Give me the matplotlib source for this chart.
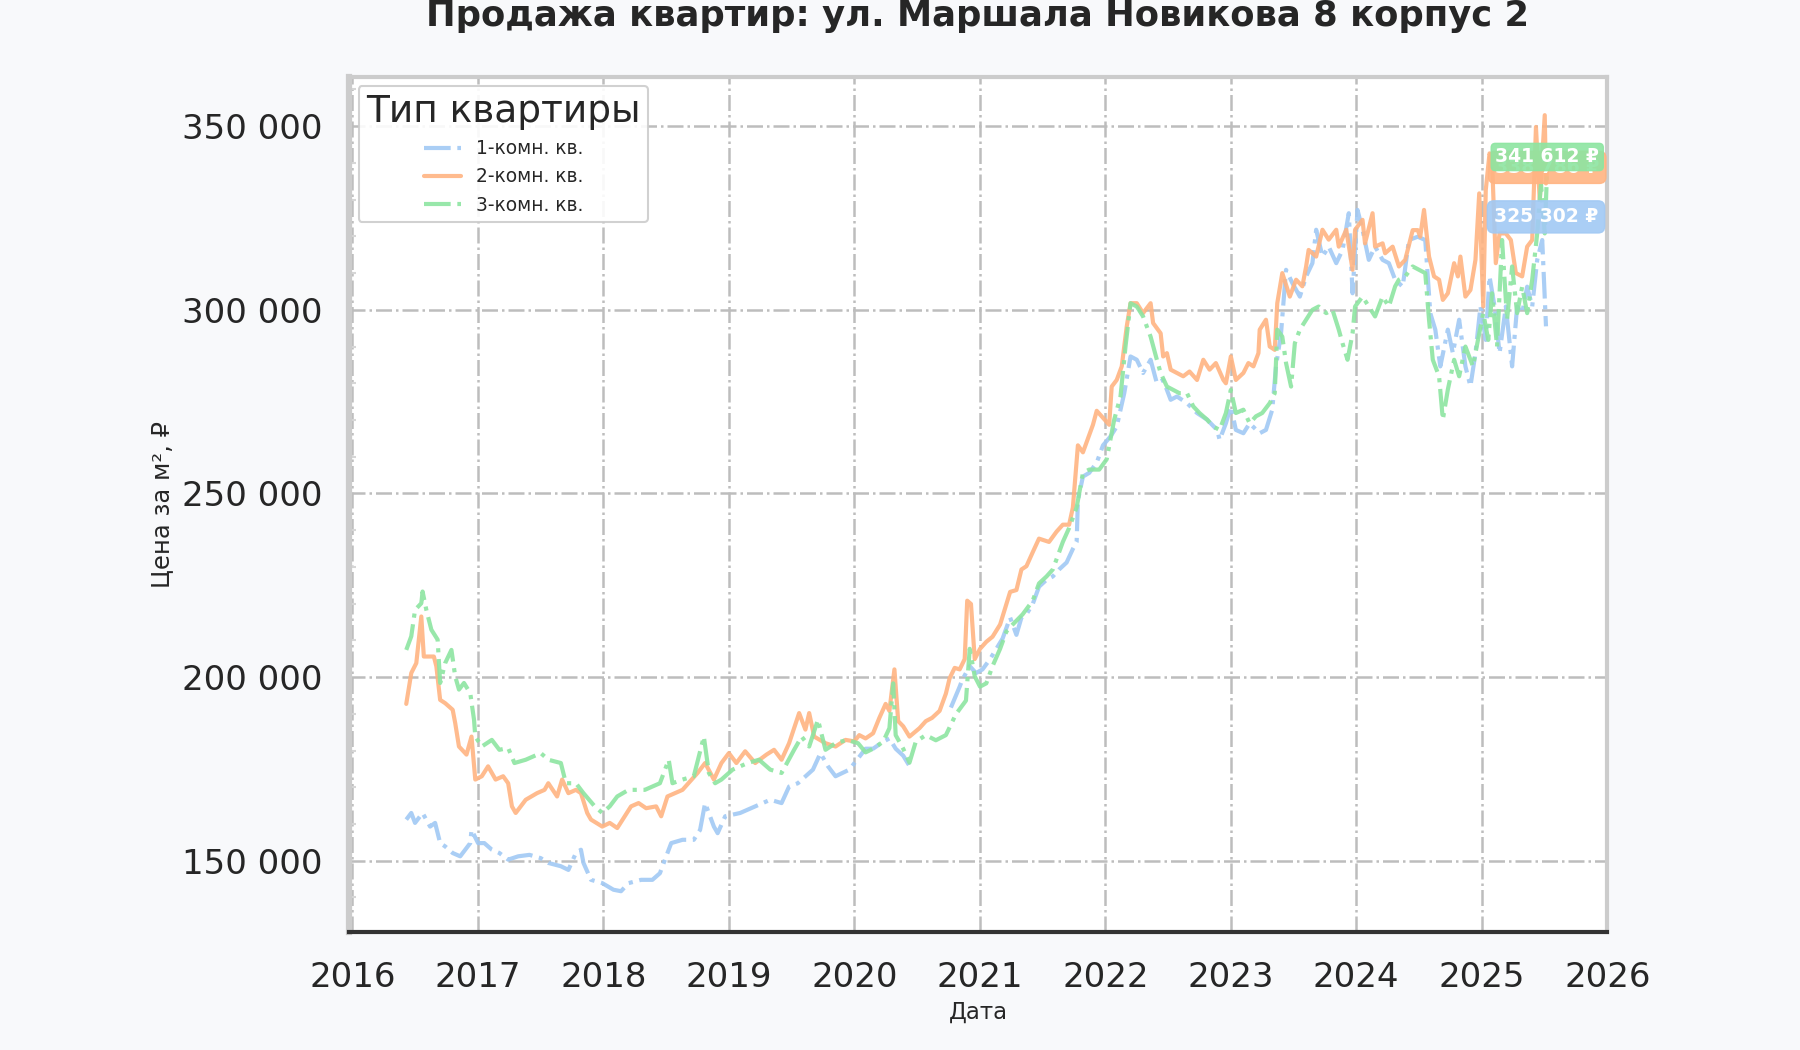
import numpy as np
import pandas as pd
import matplotlib
matplotlib.use("Agg")
import matplotlib.pyplot as plt
import matplotlib.dates as mdates
from matplotlib.ticker import FuncFormatter, AutoMinorLocator

# ---------------- data (decimal years, price per m2 in thousand RUB) ----------------
series_names = ["1-комн. кв.", "2-комн. кв.", "3-комн. кв."]

t1 = [2016.43, 2016.47, 2016.50, 2016.56, 2016.62, 2016.66, 2016.70, 2016.74, 2016.80, 2016.86,
      2016.94, 2016.95, 2017.00, 2017.05, 2017.11, 2017.17, 2017.24, 2017.32, 2017.41, 2017.50,
      2017.56, 2017.66, 2017.72, 2017.78, 2017.82, 2017.84, 2017.90, 2017.99, 2018.08, 2018.14,
      2018.20, 2018.30, 2018.39, 2018.45, 2018.49, 2018.54, 2018.63, 2018.72, 2018.77, 2018.81,
      2018.88, 2018.91, 2018.97, 2019.09, 2019.21, 2019.33, 2019.42, 2019.48, 2019.55, 2019.67,
      2019.73, 2019.79, 2019.85, 2019.96, 2020.09, 2020.15, 2020.23, 2020.28, 2020.33, 2020.39,
      2020.44, 2020.46, 2020.60, 2020.77, 2020.84, 2020.86, 2020.92, 2020.97, 2021.02, 2021.08,
      2021.13, 2021.18, 2021.24, 2021.29, 2021.33, 2021.37, 2021.42, 2021.47, 2021.53, 2021.58,
      2021.63, 2021.69, 2021.74, 2021.77, 2021.78, 2021.82, 2021.87, 2021.93, 2021.98, 2022.04,
      2022.09, 2022.15, 2022.20, 2022.25, 2022.30, 2022.36, 2022.41, 2022.46, 2022.52, 2022.57,
      2022.65, 2022.73, 2022.81, 2022.89, 2022.91, 2022.96, 2023.00, 2023.04, 2023.10, 2023.15,
      2023.23, 2023.28, 2023.33, 2023.36, 2023.40, 2023.44, 2023.49, 2023.55, 2023.60, 2023.65,
      2023.68, 2023.73, 2023.78, 2023.84, 2023.89, 2023.94, 2023.97, 2024.01, 2024.05, 2024.10,
      2024.15, 2024.21, 2024.26, 2024.31, 2024.37, 2024.42, 2024.49, 2024.55, 2024.59, 2024.63,
      2024.67, 2024.73, 2024.77, 2024.82, 2024.87, 2024.91, 2024.95, 2024.99, 2025.03, 2025.06,
      2025.10, 2025.14, 2025.19, 2025.24, 2025.28, 2025.32, 2025.36, 2025.40, 2025.44, 2025.48,
      2025.51]
v1 = [161.2, 163.0, 160.3, 163.0, 159.3, 160.3, 154.8, 153.9, 152.1, 151.2,
      154.8, 158.4, 154.8, 154.8, 153.0, 152.1, 150.3, 151.2, 151.6, 150.7,
      149.4, 148.5, 147.5, 152.1, 153.0, 149.4, 144.8, 143.9, 142.1, 141.7,
      143.9, 144.8, 144.8, 146.6, 150.3, 154.8, 155.7, 155.7, 158.4, 165.7,
      159.3, 157.5, 162.1, 163.0, 164.8, 166.6, 165.7, 170.2, 171.1, 174.8,
      179.3, 175.7, 173.0, 174.8, 180.5, 180.5, 182.4, 183.3, 180.5, 178.6,
      175.8, 174.8, np.nan, 191.7, 197.4, 199.2, 203.0, 201.1, 202.1, 204.9,
      207.7, 210.5, 216.2, 211.5, 216.2, 217.1, 219.9, 224.6, 226.5, 227.4,
      229.3, 231.2, 234.9, 236.8, 248.1, 254.6, 255.6, 258.4, 263.1, 265.5,
      268.2, 277.3, 287.3, 286.4, 282.8, 286.4, 280.0, 280.9, 275.5, 276.4,
      274.6, 271.9, 270.1, 267.3, 264.6, 269.1, 273.7, 267.3, 266.4, 269.1,
      266.4, 267.3, 272.8, 284.6, 293.6, 310.9, 307.3, 303.6, 309.1, 312.7,
      321.8, 314.5, 317.2, 312.7, 316.3, 326.3, 304.5, 327.2, 321.8, 313.6,
      317.2, 313.6, 312.7, 308.2, 306.3, 319.0, 319.9, 319.0, 299.1, 294.6,
      284.6, 294.6, 288.2, 297.3, 284.6, 279.2, 288.2, 300.9, 291.8, 309.1,
      300.9, 288.2, 300.9, 284.6, 300.9, 299.1, 306.3, 300.9, 313.6, 319.0,
      295.5]

t2 = [2016.43, 2016.47, 2016.51, 2016.55, 2016.57, 2016.65, 2016.67, 2016.70, 2016.74, 2016.80,
      2016.82, 2016.85, 2016.91, 2016.95, 2016.98, 2017.03, 2017.08, 2017.14, 2017.20, 2017.24,
      2017.27, 2017.30, 2017.38, 2017.47, 2017.53, 2017.56, 2017.63, 2017.67, 2017.72, 2017.78,
      2017.82, 2017.87, 2017.90, 2017.99, 2018.05, 2018.11, 2018.17, 2018.22, 2018.28, 2018.34,
      2018.42, 2018.46, 2018.51, 2018.63, 2018.75, 2018.81, 2018.88, 2018.94, 2019.00, 2019.06,
      2019.13, 2019.21, 2019.30, 2019.36, 2019.42, 2019.48, 2019.56, 2019.61, 2019.64, 2019.68,
      2019.77, 2019.85, 2019.93, 2020.00, 2020.04, 2020.09, 2020.15, 2020.20, 2020.25, 2020.28,
      2020.32, 2020.35, 2020.39, 2020.44, 2020.52, 2020.57, 2020.62, 2020.68, 2020.73, 2020.76,
      2020.80, 2020.84, 2020.88, 2020.90, 2020.93, 2020.96, 2021.00, 2021.05, 2021.10, 2021.16,
      2021.21, 2021.24, 2021.29, 2021.33, 2021.37, 2021.42, 2021.47, 2021.55, 2021.61, 2021.66,
      2021.71, 2021.74, 2021.78, 2021.82, 2021.85, 2021.90, 2021.93, 2021.98, 2022.03, 2022.05,
      2022.09, 2022.13, 2022.17, 2022.20, 2022.25, 2022.30, 2022.36, 2022.38, 2022.44, 2022.46,
      2022.49, 2022.52, 2022.57, 2022.62, 2022.67, 2022.73, 2022.78, 2022.83, 2022.88, 2022.94,
      2022.96, 2023.00, 2023.04, 2023.10, 2023.14, 2023.18, 2023.22, 2023.23, 2023.28, 2023.31,
      2023.35, 2023.37, 2023.41, 2023.47, 2023.52, 2023.57, 2023.60, 2023.62, 2023.68, 2023.73,
      2023.78, 2023.84, 2023.86, 2023.92, 2023.97, 2023.99, 2024.05, 2024.07, 2024.13, 2024.15,
      2024.21, 2024.23, 2024.29, 2024.34, 2024.39, 2024.45, 2024.49, 2024.51, 2024.54, 2024.58,
      2024.62, 2024.66, 2024.69, 2024.73, 2024.78, 2024.81, 2024.83, 2024.87, 2024.91, 2024.95,
      2024.98, 2025.01, 2025.03, 2025.06, 2025.08, 2025.11, 2025.14, 2025.19, 2025.23, 2025.27,
      2025.32, 2025.36, 2025.40, 2025.43, 2025.46, 2025.50, 2025.51, 2025.52]
v2 = [192.7, 201.1, 203.8, 216.5, 205.6, 205.6, 202.9, 193.8, 192.9, 191.1,
      187.5, 181.1, 178.9, 183.8, 172.1, 173.0, 175.7, 172.1, 173.0, 171.1,
      164.8, 163.0, 166.6, 168.4, 169.3, 171.1, 167.5, 172.1, 168.4, 169.3,
      168.4, 163.0, 161.2, 159.3, 160.3, 158.9, 162.1, 164.8, 165.7, 164.3,
      164.8, 162.1, 167.5, 169.3, 173.9, 176.6, 172.1, 176.6, 179.3, 176.6,
      179.8, 176.6, 178.9, 180.2, 177.5, 182.0, 190.2, 185.7, 190.2, 183.8,
      182.0, 181.1, 182.9, 182.5, 184.2, 183.3, 184.7, 188.9, 192.7, 190.8,
      202.1, 188.0, 186.6, 183.8, 186.1, 188.0, 188.9, 190.8, 195.5, 199.7,
      202.5, 202.1, 204.9, 220.8, 219.9, 204.9, 207.7, 209.6, 211.0, 214.3,
      219.9, 223.2, 223.7, 229.3, 230.2, 234.0, 237.7, 236.8, 239.6, 241.5,
      241.5, 246.2, 263.1, 261.2, 264.0, 268.7, 272.5, 270.6, 268.7, 279.1,
      280.9, 284.6, 295.5, 301.8, 301.8, 299.1, 301.8, 296.4, 293.6, 287.3,
      288.2, 283.7, 282.8, 281.9, 283.2, 280.9, 286.4, 283.7, 285.5, 280.9,
      280.0, 287.3, 280.9, 282.8, 285.5, 284.6, 288.2, 294.6, 297.3, 290.0,
      289.1, 301.8, 310.0, 303.6, 308.2, 306.4, 311.8, 316.3, 314.5, 321.8,
      319.1, 321.8, 317.2, 321.8, 310.9, 321.8, 324.5, 318.1, 326.3, 317.2,
      318.1, 315.4, 317.2, 311.8, 313.6, 321.7, 321.7, 319.9, 327.2, 314.5,
      309.1, 308.2, 302.7, 304.5, 312.7, 309.1, 314.5, 303.6, 305.4, 313.6,
      331.7, 300.9, 332.6, 342.6, 340.8, 312.7, 320.8, 320.8, 319.0, 310.0,
      309.1, 317.2, 319.0, 349.8, 329.9, 353.0, 334.4, 338.5]

t3 = [2016.43, 2016.47, 2016.50, 2016.55, 2016.56, 2016.59, 2016.63, 2016.68, 2016.70, 2016.74,
      2016.79, 2016.82, 2016.85, 2016.89, 2016.94, 2016.97, 2016.98, 2017.03, 2017.11, 2017.17,
      2017.24, 2017.29, 2017.38, 2017.50, 2017.56, 2017.66, 2017.70, 2017.78, 2017.84, 2017.93,
      2017.99, 2018.05, 2018.11, 2018.20, 2018.33, 2018.45, 2018.52, 2018.55, 2018.63, 2018.72,
      2018.80, 2018.84, 2018.89, 2018.94, 2019.03, 2019.15, 2019.24, 2019.33, 2019.42, 2019.52,
      2019.58, 2019.64, 2019.71, 2019.77, 2019.85, 2019.94, 2020.03, 2020.09, 2020.15, 2020.23,
      2020.28, 2020.31, 2020.33, 2020.39, 2020.44, 2020.49, 2020.57, 2020.65, 2020.73, 2020.81,
      2020.89, 2020.92, 2020.96, 2021.00, 2021.05, 2021.10, 2021.16, 2021.21, 2021.26, 2021.34,
      2021.42, 2021.47, 2021.53, 2021.58, 2021.61, 2021.66, 2021.71, 2021.77, 2021.82, 2021.87,
      2021.95, 2022.01, 2022.07, 2022.12, 2022.16, 2022.20, 2022.25, 2022.30, 2022.36, 2022.41,
      2022.44, 2022.49, 2022.54, 2022.59, 2022.65, 2022.70, 2022.75, 2022.81, 2022.86, 2022.91,
      2022.96, 2023.00, 2023.04, 2023.10, 2023.15, 2023.20, 2023.25, 2023.31, 2023.35, 2023.37,
      2023.41, 2023.44, 2023.48, 2023.51, 2023.55, 2023.60, 2023.65, 2023.70, 2023.76, 2023.81,
      2023.86, 2023.89, 2023.93, 2023.97, 2023.99, 2024.05, 2024.10, 2024.15, 2024.21, 2024.26,
      2024.31, 2024.34, 2024.39, 2024.45, 2024.50, 2024.55, 2024.58, 2024.61, 2024.66, 2024.69,
      2024.73, 2024.78, 2024.82, 2024.87, 2024.93, 2024.97, 2025.01, 2025.05, 2025.08, 2025.12,
      2025.16, 2025.20, 2025.24, 2025.28, 2025.32, 2025.36, 2025.40, 2025.44, 2025.47, 2025.50,
      2025.52]
v3 = [207.4, 211.1, 218.3, 220.1, 223.3, 218.3, 212.9, 210.2, 198.4, 203.8,
      207.4, 200.2, 196.6, 198.4, 195.6, 188.4, 183.8, 181.1, 182.9, 180.2,
      180.7, 176.6, 177.5, 179.3, 177.5, 176.6, 171.1, 171.1, 168.4, 164.8,
      163.0, 164.8, 167.5, 169.3, 169.3, 171.1, 177.5, 171.1, 172.1, 173.0,
      183.8, 173.9, 171.1, 172.1, 174.8, 176.6, 177.5, 174.8, 173.9, 180.2,
      183.8, 181.1, 188.4, 180.2, 182.0, 182.9, 182.0, 179.5, 180.5, 182.4,
      186.1, 198.3, 184.2, 180.5, 176.7, 182.4, 184.2, 182.8, 184.2, 189.9,
      193.6, 207.7, 200.2, 197.4, 198.3, 203.0, 207.7, 212.4, 214.3, 217.1,
      220.8, 225.5, 227.4, 229.3, 232.1, 236.8, 240.6, 246.2, 255.6, 256.5,
      256.5, 259.3, 270.1, 276.4, 290.0, 301.8, 300.9, 298.2, 292.7, 286.4,
      282.8, 279.1, 278.2, 277.3, 277.3, 273.7, 271.9, 270.1, 268.2, 267.3,
      271.9, 278.2, 271.9, 272.8, 269.1, 271.0, 271.9, 274.6, 277.3, 294.6,
      292.7, 285.5, 279.1, 290.9, 294.6, 297.3, 300.0, 300.9, 299.1, 300.0,
      294.6, 290.9, 286.4, 293.6, 300.9, 303.6, 300.9, 298.2, 303.6, 300.9,
      306.4, 308.2, 309.1, 311.8, 310.9, 310.0, 297.3, 286.4, 281.9, 270.1,
      278.3, 286.4, 281.9, 290.0, 284.6, 291.8, 299.1, 291.8, 304.5, 290.0,
      319.0, 297.3, 311.8, 299.1, 306.3, 299.1, 308.2, 320.8, 334.4, 320.8,
      339.0]

end_labels = [325302, 338786, 341612]

y_ticks = [150000, 200000, 250000, 300000, 350000]
x_years = list(range(2016, 2027))

colors = ["#a1c9f4", "#ffb482", "#8de5a1"]
styles = ["-.", "-", "-."]


def to_dates(years):
    out = []
    for y in years:
        yi = int(y)
        out.append(pd.Timestamp(yi, 1, 1) + pd.Timedelta(days=(y - yi) * 365.25))
    return pd.DatetimeIndex(out)


# ---------------- figure ----------------
plt.rcParams["font.family"] = ["DejaVu Sans"]
fig = plt.figure(figsize=(18, 10.5), dpi=100, facecolor="#f8f9fb")
ax = fig.add_axes([0.194, 0.1124, 0.699, 0.8143])
ax.set_facecolor("#ffffff")

all_t = [t1, t2, t3]
all_v = [v1, v2, v3]
for name, t, v, c, ls in zip(series_names, all_t, all_v, colors, styles):
    ax.plot(to_dates(t), np.array(v) * 1000, color=c, linestyle=ls, lw=3.0,
            alpha=0.9, label=name, solid_capstyle="round")

# end-of-series labels
pads = [0.35, 0.35, 0.22]
for t, lab, c, p in zip(all_t, end_labels, colors, pads):
    x_end = to_dates([t[-1]])[0]
    txt = f"{lab:,}".replace(",", " ") + " ₽"
    ax.text(x_end, lab, txt, ha="center", va="center", fontsize=13.5,
            fontweight="bold", color="white", clip_on=False,
            bbox=dict(boxstyle=f"round,pad={p}", fc=c, ec=c, alpha=0.9))

ax.set_xlim(pd.Timestamp(2015, 12, 23), pd.Timestamp(2026, 1, 1))
ax.set_ylim(130600, 363400)

ax.set_xticks([pd.Timestamp(y, 1, 1) for y in x_years])
ax.xaxis.set_major_formatter(mdates.DateFormatter("%Y"))
ax.set_yticks(y_ticks)
ax.yaxis.set_major_formatter(FuncFormatter(lambda v, _: f"{v:,.0f}".replace(",", " ")))
ax.yaxis.set_minor_locator(AutoMinorLocator(5))

ax.tick_params(axis="both", which="major", length=0, labelsize=24.5,
               colors="#262626", pad=19)
ax.tick_params(axis="x", which="major", pad=21)
ax.tick_params(axis="y", which="minor", direction="in", length=5, width=1.5,
               color="#d6d6d6")

ax.grid(True, which="major", color="#bdbdbd", linestyle="-.", linewidth=1.8)
ax.set_axisbelow(True)

for side in ["top", "right"]:
    ax.spines[side].set_color("#cccccc")
    ax.spines[side].set_linewidth(3)
ax.spines["left"].set_color("#cccccc")
ax.spines["left"].set_linewidth(4.5)
ax.spines["bottom"].set_color("#333333")
ax.spines["bottom"].set_linewidth(3)

ax.set_xlabel("Дата", fontsize=16.5, color="#262626", labelpad=5)
ax.set_ylabel("Цена за м², ₽", fontsize=17.5, color="#262626", labelpad=6)

fig.text(0.5433, 0.985, "Продажа квартир: ул. Маршала Новикова 8 корпус 2",
         ha="center", va="center", fontsize=25.5, fontweight="bold", color="#262626")

leg = ax.legend(title="Тип квартиры", loc="upper left", fontsize=13.4,
                title_fontsize=27, labelspacing=0.5, frameon=True, fancybox=True,
                borderaxespad=0.5)
leg.get_frame().set_edgecolor("#cccccc")
leg.get_frame().set_linewidth(1.5)
leg.get_frame().set_facecolor("white")
leg.get_frame().set_alpha(0.9)
plt.setp(leg.get_title(), color="#262626")
for txt in leg.get_texts():
    txt.set_color("#262626")

fig.savefig("out.png", dpi=100, facecolor=fig.get_facecolor())
